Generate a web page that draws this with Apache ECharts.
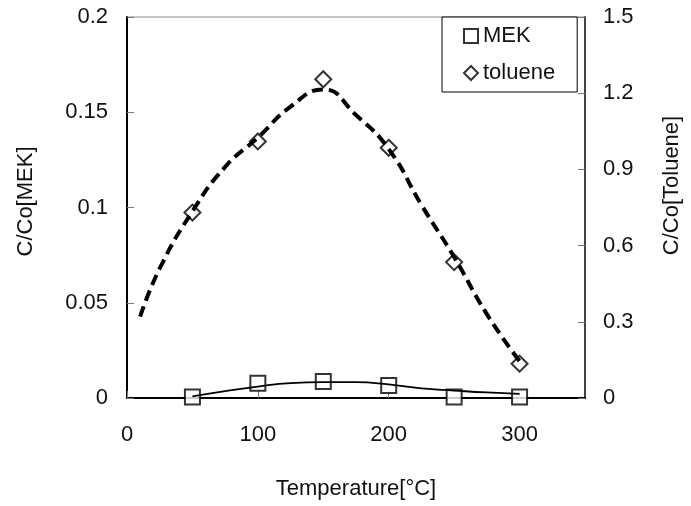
<!DOCTYPE html>
<html>
<head>
<meta charset="utf-8">
<script src="https://cdn.jsdelivr.net/npm/echarts@6/dist/echarts.min.js"></script>
<style>
html,body{margin:0;padding:0;background:#fff;}
#main{width:691px;height:506px;}
</style>
</head>
<body>
<div id="main"></div>
<script>
// measured points
var temps = [50, 100, 150, 200, 250, 300];
var mekValues = [0.0005, 0.0077, 0.0086, 0.0066, 0.0005, 0.0005];
var tolueneValues = [0.73, 1.01, 1.255, 0.985, 0.535, 0.135];

// trend curves
var mekTrendX = [50, 75, 100, 125, 150, 175, 200, 225, 250, 275, 300];
var mekTrendY = [0.0008, 0.0036, 0.006, 0.0078, 0.0083, 0.0083, 0.0071, 0.005, 0.0039, 0.0029, 0.0022];
var tolTrendX = [10, 25, 50, 75, 100, 125, 150, 175, 200, 225, 250, 275, 300];
var tolTrendY = [0.32, 0.51, 0.735, 0.91, 1.025, 1.147, 1.215, 1.114, 0.98, 0.76, 0.555, 0.33, 0.145];

function pairs(xs, ys){
	return xs.map(function(x, i){ return [x, ys[i]]; });
}

var font = 'Liberation Sans';
var chart = echarts.init(document.getElementById('main'));

var option = {
	animation: false,
	backgroundColor: '#fff',
	textStyle: { fontFamily: font },
	grid: {
		left: 127, right: 106, top: 17, bottom: 108,
		show: true,
		borderColor: '#888',
		borderWidth: 1
	},
	legend: {
		orient: 'vertical',
		left: 442,
		top: 17,
		padding: [8, 22, 8, 21],
		itemGap: 15,
		itemWidth: 14,
		itemHeight: 14,
		backgroundColor: '#fff',
		borderColor: '#000',
		borderWidth: 1,
		data: ['MEK', 'toluene'],
		textStyle: { fontFamily: font, fontSize: 22, color: '#111' }
	},
	xAxis: {
		type: 'value',
		min: 0, max: 350, interval: 100,
		name: 'Temperature[°C]',
		nameLocation: 'middle',
		nameGap: 80,
		nameTextStyle: { fontFamily: font, fontSize: 22, color: '#111' },
		axisLine: { lineStyle: { color: '#000', width: 2 } },
		axisTick: { inside: true, length: 7, lineStyle: { color: '#777' } },
		axisLabel: { showMaxLabel: false, margin: 26, fontSize: 22, color: '#111', fontFamily: font },
		splitLine: { show: false }
	},
	yAxis: [{
		type: 'value',
		position: 'left',
		min: 0, max: 0.2, interval: 0.05,
		name: 'C/Co[MEK]',
		nameLocation: 'middle',
		nameRotate: 90,
		nameGap: 90,
		nameTextStyle: { fontFamily: font, fontSize: 22, color: '#111', padding: [0, 0, 0, 12] },
		axisLine: { show: true, lineStyle: { color: '#000', width: 2 } },
		axisTick: { show: true, inside: true, length: 7, lineStyle: { color: '#777' } },
		axisLabel: { margin: 19, fontSize: 22, color: '#111', fontFamily: font },
		splitLine: { show: false }
	}, {
		type: 'value',
		position: 'right',
		min: 0, max: 1.5, interval: 0.3,
		name: 'C/Co[Toluene]',
		nameLocation: 'middle',
		nameRotate: 90,
		nameGap: 76,
		nameTextStyle: { fontFamily: font, fontSize: 22, color: '#111', padding: [0, 0, 0, 44] },
		axisLine: { show: true, lineStyle: { color: '#444', width: 2 } },
		axisTick: { show: true, inside: true, length: 7, lineStyle: { color: '#777' } },
		axisLabel: { margin: 18, fontSize: 22, color: '#111', fontFamily: font },
		splitLine: { show: false }
	}],
	series: [
		{
			name: 'MEK',
			type: 'scatter',
			yAxisIndex: 0,
			symbol: 'rect',
			symbolSize: 15,
			itemStyle: { color: '#fff', borderColor: '#000', borderWidth: 2 },
			z: 2,
			data: pairs(temps, mekValues)
		},
		{
			name: 'toluene',
			type: 'scatter',
			yAxisIndex: 1,
			symbol: 'diamond',
			symbolSize: 16,
			itemStyle: { color: '#fff', borderColor: '#000', borderWidth: 2 },
			z: 2,
			data: pairs(temps, tolueneValues)
		},
		{
			name: 'MEK trend',
			type: 'line',
			yAxisIndex: 0,
			smooth: 0.5,
			showSymbol: false,
			symbol: 'none',
			lineStyle: { color: '#000', width: 1.8 },
			z: 3,
			data: pairs(mekTrendX, mekTrendY)
		},
		{
			name: 'toluene trend',
			type: 'line',
			yAxisIndex: 1,
			smooth: 0.5,
			showSymbol: false,
			symbol: 'none',
			lineStyle: { color: '#000', width: 4, type: [11, 6] },
			z: 3,
			data: pairs(tolTrendX, tolTrendY)
		}
	]
};

chart.setOption(option);
</script>
</body>
</html>
